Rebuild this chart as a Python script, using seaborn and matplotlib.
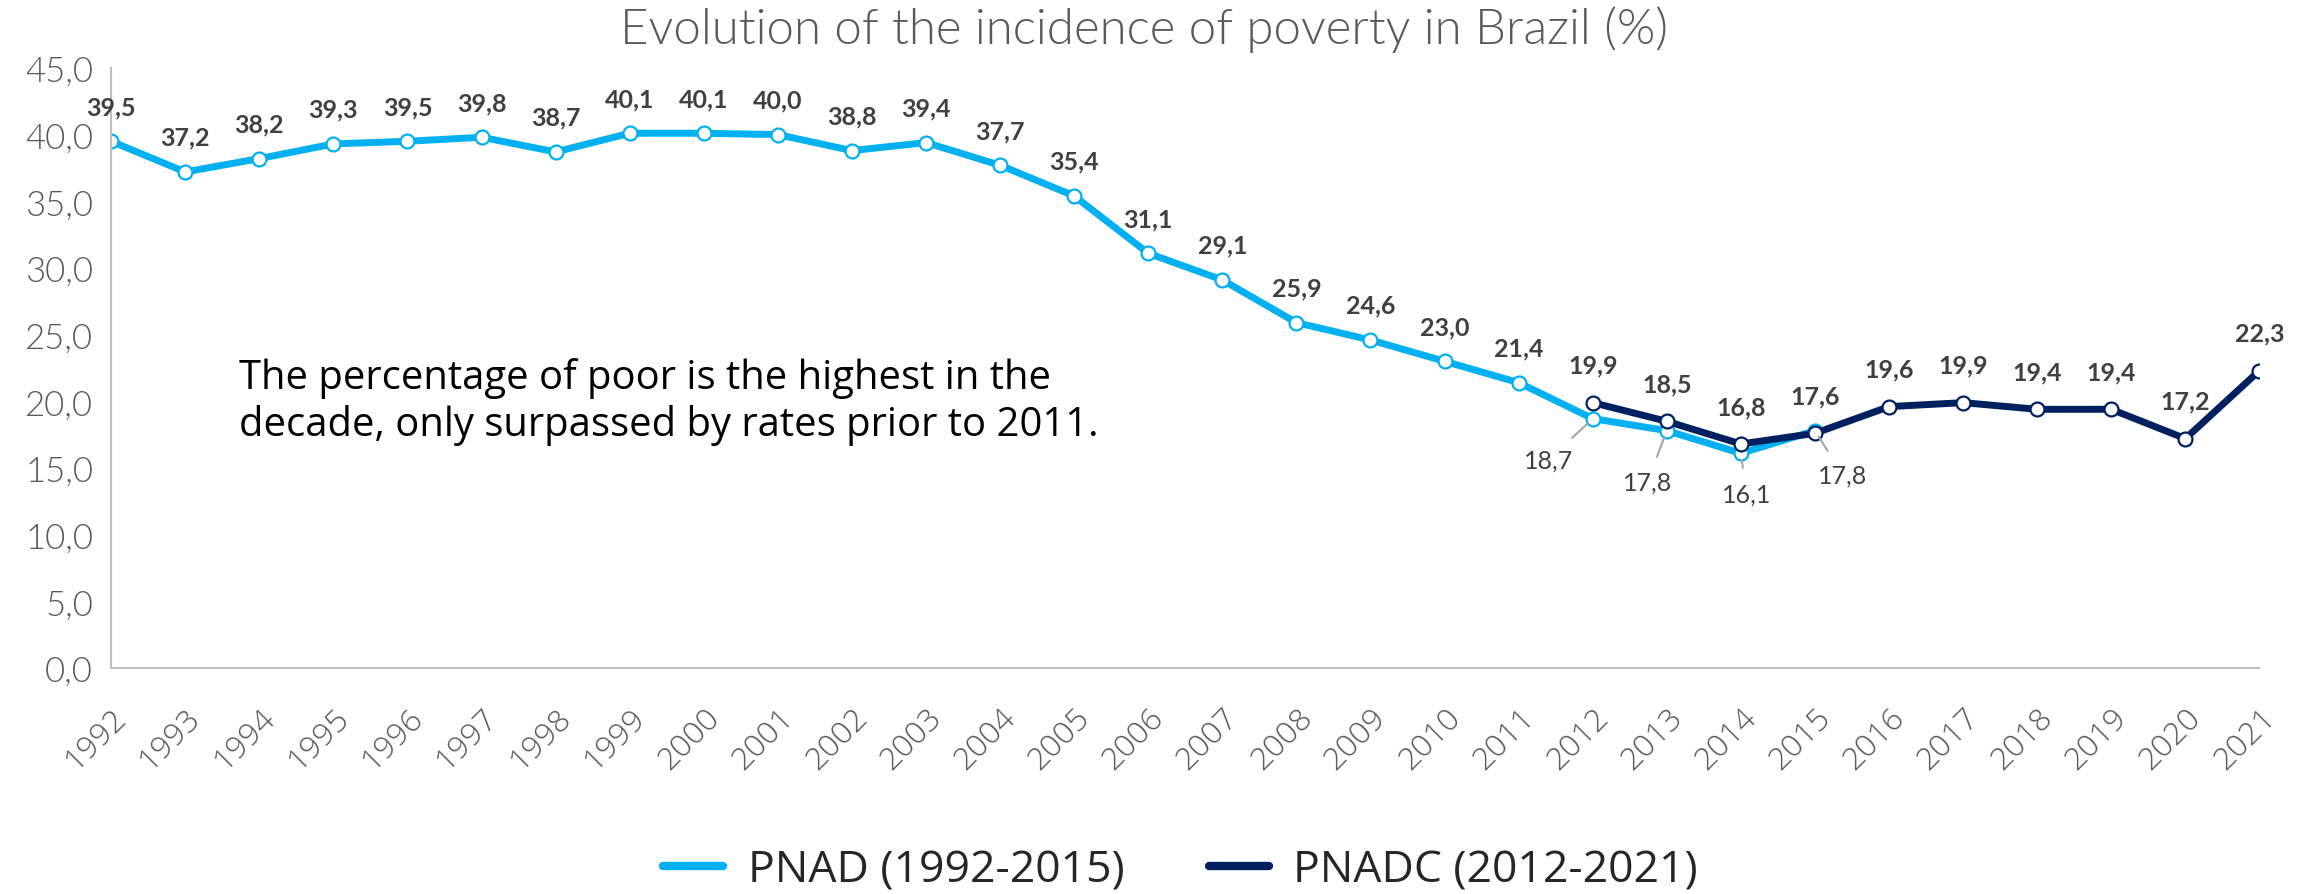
import pandas as pd
import matplotlib.pyplot as plt
import seaborn as sns

sns.set_theme(style="white")

# dados
anos_pnad = list(range(1992, 2016))
pnad = [39.5, 37.2, 38.2, 39.3, 39.5, 39.8, 38.7, 40.1, 40.1, 40.0, 38.8, 39.4,
        37.7, 35.4, 31.1, 29.1, 25.9, 24.6, 23.0, 21.4, 18.7, 17.8, 16.1, 17.8]
anos_pnadc = list(range(2012, 2022))
pnadc = [19.9, 18.5, 16.8, 17.6, 19.6, 19.9, 19.4, 19.4, 17.2, 22.3]
anos = list(range(1992, 2022))
series = ['PNAD (1992-2015)', 'PNADC (2012-2021)']
cores = ['#00B0F0', '#002060']

df = pd.concat([
    pd.DataFrame({'ano': anos_pnad, 'valor': pnad, 'serie': series[0]}),
    pd.DataFrame({'ano': anos_pnadc, 'valor': pnadc, 'serie': series[1]}),
])

def fmt(v):
    return f"{v:.1f}".replace('.', ',')

fig = plt.figure(figsize=(23.15, 8.95), dpi=100)
ax = fig.add_axes([0.048, 0.2525, 0.928, 0.6705])

for serie, cor in zip(series, cores):
    sns.lineplot(data=df[df['serie'] == serie], x='ano', y='valor', ax=ax,
                 color=cor, linewidth=5, marker='o', markersize=10,
                 markerfacecolor='white', markeredgecolor=cor,
                 markeredgewidth=1.6, label=serie)

ax.set_xlim(1992, 2021)
ax.set_ylim(0, 45)
ax.set_yticks([i * 5 for i in range(10)])
ax.set_yticklabels([fmt(i * 5) for i in range(10)], fontsize=25,
                   color='#595959', family='Lato', fontweight=300)
ax.set_xticks(anos)
ax.set_xticklabels([str(a) for a in anos], rotation=45, ha='right',
                   rotation_mode='anchor', fontsize=23, color='#595959',
                   family='Open Sans', fontweight=300)
ax.tick_params(axis='y', length=0, pad=13)
ax.tick_params(axis='x', length=0, pad=24)
ax.set_xlabel('')
ax.set_ylabel('')
for lado in ['top', 'right']:
    ax.spines[lado].set_visible(False)
for lado in ['left', 'bottom']:
    ax.spines[lado].set_color('#BFBFBF')
    ax.spines[lado].set_linewidth(1.5)

rotulo = dict(fontsize=18, fontweight='bold', color='#404040', family='Lato',
              ha='center', va='center', textcoords='offset points')

# rótulos PNAD acima até 2011
for a, v in zip(anos_pnad, pnad):
    if a <= 2011:
        ax.annotate(fmt(v), (a, v), xytext=(0, 25), **rotulo)

# rótulos PNADC acima
for a, v in zip(anos_pnadc, pnadc):
    ax.annotate(fmt(v), (a, v), xytext=(0, 27), **rotulo)

# rótulos PNAD 2012-2015 abaixo com linhas de chamada
deslocamentos = [(-32, -30), (-14, -37), (4, -29), (20, -32)]
for (a, v), d in zip(list(zip(anos_pnad, pnad))[-4:], deslocamentos):
    ax.annotate(fmt(v), (a, v), xytext=d,
                arrowprops=dict(arrowstyle='-', color='#A6A6A6', lw=1.5,
                                shrinkA=8, shrinkB=5),
                **{**rotulo, 'fontweight': 'normal'})

ax.text(0.0596, 0.445,
        'The percentage of poor is the highest in the\n'
        'decade, only surpassed by rates prior to 2011.',
        transform=ax.transAxes, fontsize=28.8, family='Open Sans',
        color='black', va='center', ha='left', linespacing=1.2)

fig.text(0.494, 1 - 30 / 895, 'Evolution of the incidence of poverty in Brazil (%)',
         fontsize=35.5, color='#595959', family='Lato', fontweight=300,
         ha='center', va='center')

ax.legend_.remove()
h, l = ax.get_legend_handles_labels()
fig.legend(h, l, loc='center', bbox_to_anchor=(0.51, 1 - 871 / 895), ncol=2,
           frameon=False, prop={'family': 'Open Sans', 'size': 32},
           handlelength=1.35, columnspacing=1.9, handletextpad=0.55)
for linha in fig.legends[0].get_lines():
    linha.set_marker('')
    linha.set_linewidth(6)

fig.savefig('out.png', dpi=100)
